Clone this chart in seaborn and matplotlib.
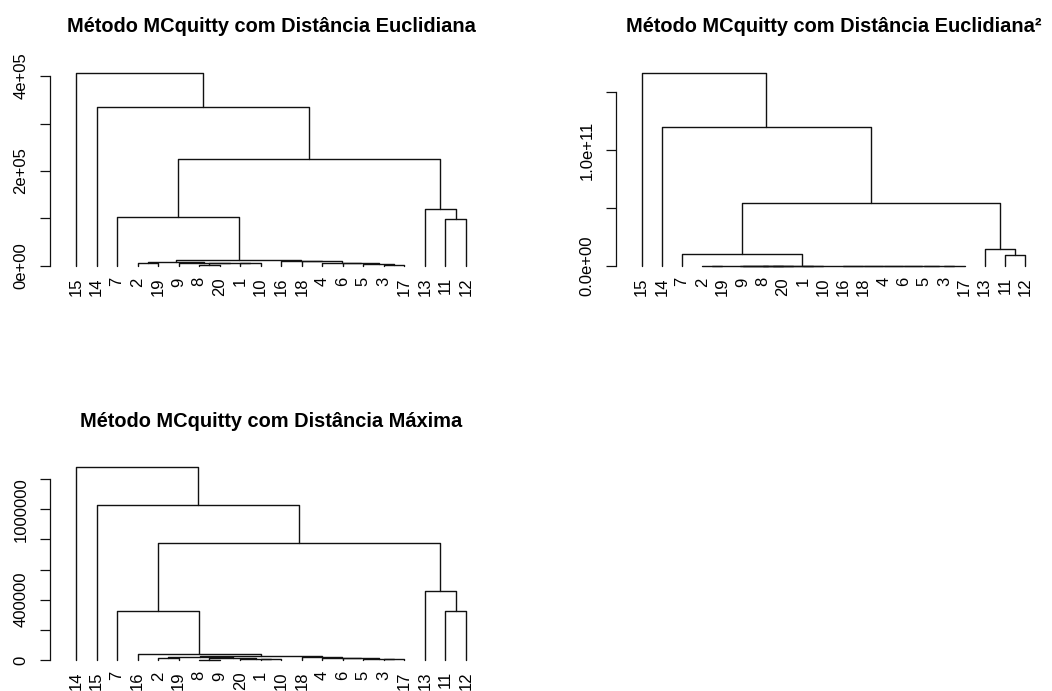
import numpy as np
import pandas as pd
import seaborn as sns
import matplotlib
matplotlib.use("Agg")
import matplotlib.pyplot as plt

# %% Data: leaf order and merges (R style: -k = leaf k, j = merge row j)

order_euc = [15, 14, 7, 2, 19, 9, 8, 20, 1, 10, 16, 18, 4, 6, 5, 3, 17, 13, 11, 12]
merge_euc = [(-8, -20), (-3, -17), (-5, 2), (-6, 3), (-1, -10), (1, 5),
             (-9, 6), (-2, -19), (-4, 4), (8, 7), (-18, 9), (-16, 11),
             (10, 12), (-11, -12), (-7, 13), (-13, 14), (15, 16),
             (-14, 17), (-15, 18)]
height_euc = [1500, 2800, 4200, 5600, 5500, 6000, 6800, 7000, 7200, 8500,
              10000, 11000, 12600, 99600, 103000, 119000, 224600, 335000,
              407000]

order_euc2 = order_euc
merge_euc2 = merge_euc
height_euc2 = [2.0e6, 8.0e6, 1.8e7, 3.0e7, 3.0e7, 3.6e7, 4.6e7, 4.9e7,
               5.2e7, 7.2e7, 1.0e8, 1.2e8, 1.6e8, 0.097e11, 0.106e11,
               0.147e11, 0.546e11, 1.198e11, 1.667e11]

order_max = [14, 15, 7, 16, 2, 19, 8, 9, 20, 1, 10, 18, 4, 6, 5, 3, 17, 13, 11, 12]
merge_max = [(-8, -9), (-1, -10), (-3, -17), (-20, 2), (-5, 3), (1, 4),
             (-6, 5), (-2, -19), (-4, 7), (-18, 9), (8, 6), (11, 10),
             (-16, 12), (-11, -12), (-7, 13), (-13, 14), (15, 16),
             (-15, 17), (-14, 18)]
height_max = [3000, 5000, 6000, 8000, 9000, 12000, 12000, 15000, 16000,
              20000, 22000, 25000, 40000, 327000, 325000, 460000, 779000,
              1029000, 1279000]

ticks_euc = [0, 1e5, 2e5, 3e5, 4e5]
labels_euc = ['0e+00', '', '2e+05', '', '4e+05']
ticks_euc2 = [0, 0.5e11, 1.0e11, 1.5e11]
labels_euc2 = ['0.0e+00', '', '1.0e+11', '']
ticks_max = [0, 2e5, 4e5, 6e5, 8e5, 1e6, 1.2e6]
labels_max = ['0', '', '400000', '', '', '1000000', '']

titles = ['Método MCquitty com Distância Euclidiana',
          'Método MCquitty com Distância Euclidiana²',
          'Método MCquitty com Distância Máxima']


def tree_segments(order, merges, heights):
    """Build the U-shaped segments of a dendrogram."""
    pos = {lab: i for i, lab in enumerate(order)}
    node_x, node_h, rows = [], [], []
    for k, ((a, b), h) in enumerate(zip(merges, heights)):
        xs, hs = [], []
        for c in (a, b):
            if c < 0:
                xs.append(pos[-c])
                hs.append(0.0)
            else:
                xs.append(node_x[c - 1])
                hs.append(node_h[c - 1])
        node_x.append((xs[0] + xs[1]) / 2)
        node_h.append(h)
        pts = [(xs[0], hs[0]), (xs[0], h), (xs[1], h), (xs[1], hs[1])]
        for j, (px, py) in enumerate(pts):
            rows.append(dict(seg=k, step=j, x=px, y=py))
    return pd.DataFrame(rows)


# %% Plot

sns.set_style("white")
plt.rcParams['font.family'] = ['Liberation Sans', 'DejaVu Sans']
plt.rcParams['text.color'] = 'black'
plt.rcParams['xtick.color'] = 'black'
plt.rcParams['ytick.color'] = 'black'

W, H = 1052, 691
fig = plt.figure(figsize=(W / 100, H / 100), dpi=100)

# panel boxes in pixels: left, right, top, bottom
boxes = [(50, 492, 65, 273.7), (616, 1050.7, 65, 273.7), (50, 492, 459.6, 667.7)]
panels = [(order_euc, merge_euc, height_euc, ticks_euc, labels_euc),
          (order_euc2, merge_euc2, height_euc2, ticks_euc2, labels_euc2),
          (order_max, merge_max, height_max, ticks_max, labels_max)]

for (l, r, t, b), (order, merges, heights, yt, yl), title in zip(boxes, panels, titles):
    ax = fig.add_axes([l / W, 1 - b / H, (r - l) / W, (b - t) / H])
    df = tree_segments(order, merges, heights)
    sns.lineplot(data=df, x='x', y='y', units='seg', estimator=None,
                 sort=False, color='#111111', linewidth=1.0, ax=ax)
    top = max(heights)
    ax.set_ylim(-0.04 * top, 1.04 * top)
    n = len(order)
    ext = 1.27
    ax.set_xlim(-ext, n - 1 + ext)
    ax.set_xlabel('')
    ax.set_ylabel('')
    ax.set_xticks(range(n))
    ax.set_xticklabels([str(v) for v in order], rotation=90, fontsize=12)
    ax.tick_params(axis='x', length=0, pad=2.5)
    ax.set_yticks(yt)
    ax.set_yticklabels(yl, rotation=90, va='center', fontsize=12)
    ax.tick_params(axis='y', left=True, length=7.5, width=0.9,
                   color='#111111', pad=8)
    for s in ['top', 'right', 'bottom']:
        ax.spines[s].set_visible(False)
    ax.spines['left'].set_bounds(yt[0], yt[-1])
    ax.spines['left'].set_linewidth(0.9)
    ax.spines['left'].set_color('#111111')
    ax.set_title(title, fontsize=14.4, fontweight='bold', pad=23.5,
                 color='black')

fig.savefig("out.png", dpi=100)
